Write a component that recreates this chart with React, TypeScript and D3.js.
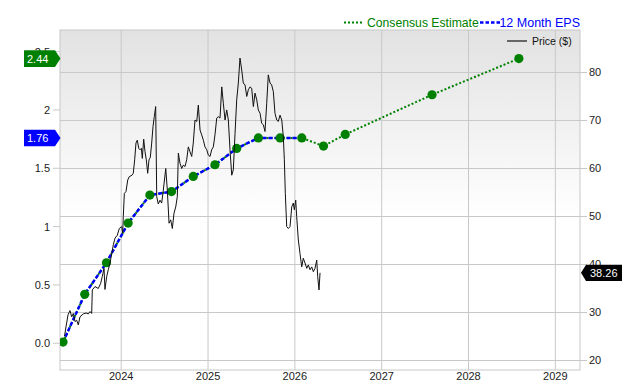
import React from "react";
import * as d3 from "d3";

// ---------- data ----------
const yearTicks = [2024, 2025, 2026, 2027, 2028, 2029];
const epsTicks = [0, 0.5, 1, 1.5, 2, 2.5];
const epsTickLabels = ["0.0", "0.5", "1", "1.5", "2", "2.5"];
const priceTicks = [20, 30, 40, 50, 60, 70, 80];

// quarterly 12-month EPS (actuals then consensus estimates), dates as decimal years
const epsDates = [
  2023.33, 2023.58, 2023.83, 2024.08, 2024.33, 2024.58, 2024.83, 2025.08,
  2025.33, 2025.58, 2025.83, 2026.08, 2026.33, 2026.58, 2027.58, 2028.58,
];
const epsValues = [
  0.01, 0.42, 0.69, 1.03, 1.27, 1.3, 1.43, 1.53, 1.67, 1.76, 1.76, 1.76, 1.69,
  1.79, 2.13, 2.44,
];
const lastActualIndex = 11;

// weekly-ish closing price, dates as decimal years
const priceDates = [
  2023.347, 2023.364, 2023.387, 2023.41, 2023.43, 2023.448, 2023.468, 2023.487,
  2023.506, 2023.525, 2023.563, 2023.595, 2023.621, 2023.641, 2023.66, 2023.667,
  2023.698, 2023.736, 2023.764, 2023.782, 2023.802, 2023.813, 2023.833, 2023.851,
  2023.871, 2023.891, 2023.909, 2023.929, 2023.955, 2023.978, 2024.006, 2024.017,
  2024.024, 2024.036, 2024.055, 2024.075, 2024.093, 2024.124, 2024.139, 2024.155,
  2024.17, 2024.185, 2024.202, 2024.217, 2024.232, 2024.243, 2024.259, 2024.274,
  2024.289, 2024.305, 2024.32, 2024.335, 2024.351, 2024.366, 2024.381, 2024.397,
  2024.409, 2024.427, 2024.447, 2024.466, 2024.485, 2024.513, 2024.531, 2024.551,
  2024.57, 2024.589, 2024.608, 2024.628, 2024.646, 2024.658, 2024.677, 2024.697,
  2024.715, 2024.735, 2024.754, 2024.773, 2024.792, 2024.812, 2024.83, 2024.85,
  2024.87, 2024.888, 2024.908, 2024.927, 2024.946, 2024.965, 2024.985, 2025.003,
  2025.023, 2025.042, 2025.061, 2025.08, 2025.1, 2025.118, 2025.138, 2025.158,
  2025.176, 2025.196, 2025.215, 2025.234, 2025.253, 2025.273, 2025.291, 2025.311,
  2025.33, 2025.349, 2025.368, 2025.388, 2025.406, 2025.426, 2025.446, 2025.464,
  2025.484, 2025.503, 2025.522, 2025.541, 2025.561, 2025.579, 2025.599, 2025.618,
  2025.637, 2025.656, 2025.676, 2025.694, 2025.714, 2025.733, 2025.752, 2025.771,
  2025.791, 2025.809, 2025.829, 2025.849, 2025.867, 2025.879, 2025.89, 2025.906,
  2025.925, 2025.944, 2025.964, 2025.982, 2025.994, 2026.01, 2026.021, 2026.04,
  2026.059, 2026.079, 2026.097, 2026.117, 2026.137, 2026.155, 2026.175, 2026.194,
  2026.213, 2026.232, 2026.252, 2026.263, 2026.278, 2026.29,
];
const priceValues = [
  25.1, 27.0, 29.5, 30.4, 29.1, 29.8, 28.1, 28.4,
  27.4, 29.1, 29.7, 29.9, 29.7, 30.2, 29.8, 34.7,
  35.4, 35.0, 36.1, 37.5, 39.2, 34.8, 37.5, 38.9,
  40.3, 42.3, 44.1, 45.5, 46.1, 47.5, 47.9, 46.5,
  50.0, 54.8, 55.2, 57.6, 58.3, 58.6, 59.0, 61.8,
  65.3, 65.9, 64.2, 63.9, 64.2, 62.1, 66.1, 63.5,
  61.8, 59.0, 61.8, 62.3, 65.3, 68.7, 70.8, 72.9,
  54.1, 52.6, 53.4, 52.8, 55.5, 60.0, 55.5, 48.6,
  49.3, 47.5, 50.7, 52.0, 54.1, 63.2, 61.1, 60.0,
  60.7, 60.4, 61.8, 64.5, 63.5, 62.5, 65.3, 70.1,
  69.8, 73.2, 68.0, 67.0, 65.9, 64.5, 63.9, 62.8,
  62.5, 63.9, 64.5, 67.0, 70.5, 70.8, 70.5, 77.0,
  73.6, 70.1, 72.2, 70.1, 63.9, 58.6, 59.7, 67.3,
  74.3, 77.8, 83.0, 80.5, 77.8, 77.4, 75.0, 76.4,
  77.0, 76.7, 72.9, 75.7, 74.3, 72.2, 71.5, 69.4,
  69.1, 67.7, 73.6, 79.5, 77.8, 77.4, 76.0, 71.5,
  70.1, 69.8, 71.1, 70.1, 66.6, 61.8, 54.8, 47.9,
  47.5, 47.9, 52.0, 52.8, 51.4, 53.4, 50.0, 45.1,
  42.3, 39.5, 41.3, 40.3, 39.2, 39.9, 38.9, 39.5,
  38.5, 39.2, 40.9, 37.5, 34.7, 38.26,
];

// ---------- layout ----------
const W = 640;
const H = 380;
const L = 60;
const R = 580;
const T = 30;
const B = 370;
const FONT = "'Liberation Sans', Arial, Helvetica, sans-serif";
const GRID = "#c8c8c8";
const GREEN = "#008000";
const BLUE = "#0000ff";

export default function App() {
  const x = d3.scaleLinear().domain([2023.295, 2029.284]).range([L, R]);
  const yEps = d3.scaleLinear().domain([-0.229, 2.685]).range([B, T]);
  const yPrice = d3.scaleLinear().domain([18.02, 88.85]).range([B, T]);

  const epsPts = epsDates.map((d, i) => ({ d, v: epsValues[i] }));
  const pricePts = priceDates.map((d, i) => ({ d, v: priceValues[i] }));

  const epsLine = d3
    .line<{ d: number; v: number }>()
    .x((p) => x(p.d))
    .y((p) => yEps(p.v));
  const priceLine = d3
    .line<{ d: number; v: number }>()
    .x((p) => x(p.d))
    .y((p) => yPrice(p.v));

  const lastEst = epsValues[epsValues.length - 1];
  const lastAct = epsValues[lastActualIndex];
  const lastPrice = priceValues[priceValues.length - 1];

  const leftTag = (v: number, color: string) => {
    const cy = yEps(v);
    return (
      <g key={color}>
        <path
          d={`M24,${cy - 8.3} H55 L60.5,${cy} L55,${cy + 8.3} H24 Z`}
          fill={color}
        />
        <text x={27} y={cy + 4} fill="#fff" fontSize={11} fontFamily={FONT}>
          {v.toFixed(2)}
        </text>
      </g>
    );
  };

  const pyLast = yPrice(lastPrice);

  return (
    <svg
      width={W}
      height={H}
      style={{ position: "absolute", left: 0, top: 0, background: "#fff" }}
    >
      <defs>
        <linearGradient id="bg" x1="0" y1="0" x2="0" y2="1">
          <stop offset="0%" stopColor="#e2e2e2" />
          <stop offset="55%" stopColor="#ffffff" />
          <stop offset="100%" stopColor="#ffffff" />
        </linearGradient>
        <clipPath id="plot">
          <rect x={L} y={T} width={R - L} height={B - T} />
        </clipPath>
      </defs>

      <rect x={L} y={T} width={R - L} height={B - T} fill="url(#bg)" />

      {/* grid */}
      {yearTicks.map((t) => (
        <line
          key={"vx" + t}
          x1={x(t)}
          x2={x(t)}
          y1={T}
          y2={B}
          stroke={GRID}
          strokeWidth={1}
        />
      ))}
      {priceTicks.map((t) => (
        <line
          key={"hy" + t}
          x1={L}
          x2={R}
          y1={yPrice(t)}
          y2={yPrice(t)}
          stroke={GRID}
          strokeWidth={1}
        />
      ))}
      <rect
        x={L}
        y={T}
        width={R - L}
        height={B - T}
        fill="none"
        stroke={GRID}
        strokeWidth={1}
      />

      {/* left axis */}
      {epsTicks.map((t, i) => (
        <g key={"le" + t}>
          <line
            x1={53}
            x2={L}
            y1={yEps(t)}
            y2={yEps(t)}
            stroke={GRID}
            strokeWidth={1}
          />
          <text
            x={50}
            y={yEps(t) + 4}
            textAnchor="end"
            fontSize={11}
            fontFamily={FONT}
            fill="#222"
          >
            {epsTickLabels[i]}
          </text>
        </g>
      ))}

      {/* right axis */}
      {priceTicks.map((t) => (
        <g key={"rp" + t}>
          <line
            x1={R}
            x2={587}
            y1={yPrice(t)}
            y2={yPrice(t)}
            stroke={GRID}
            strokeWidth={1}
          />
          <text
            x={589}
            y={yPrice(t) + 4}
            fontSize={11}
            fontFamily={FONT}
            fill="#222"
          >
            {t}
          </text>
        </g>
      ))}

      {/* bottom axis */}
      {yearTicks.map((t) => (
        <text
          key={"bx" + t}
          x={x(t)}
          y={380}
          textAnchor="middle"
          fontSize={11}
          fontFamily={FONT}
          fill="#222"
        >
          {t}
        </text>
      ))}

      <g clipPath="url(#plot)">
        {/* consensus (dotted green) through all points */}
        <path
          d={epsLine(epsPts) || ""}
          fill="none"
          stroke={GREEN}
          strokeWidth={2}
          strokeDasharray="2,2"
        />
        {/* 12 month EPS actuals (dashed blue) */}
        <path
          d={epsLine(epsPts.slice(0, lastActualIndex + 1)) || ""}
          fill="none"
          stroke={BLUE}
          strokeWidth={2.5}
          strokeDasharray="4,2"
        />
        {epsPts.map((p, i) => (
          <circle
            key={"dot" + i}
            cx={x(p.d)}
            cy={yEps(p.v)}
            r={4.6}
            fill={GREEN}
          />
        ))}
        <path
          d={priceLine(pricePts) || ""}
          fill="none"
          stroke="#111"
          strokeWidth={1}
          strokeLinejoin="round"
        />
      </g>

      {/* value tags */}
      {leftTag(lastEst, GREEN)}
      {leftTag(lastAct, BLUE)}
      <path
        d={`M581,${pyLast} L586,${pyLast - 8.2} H622 V${pyLast + 8.2} H586 Z`}
        fill="#000"
      />
      <text x={590} y={pyLast + 4} fill="#fff" fontSize={11} fontFamily={FONT}>
        {lastPrice.toFixed(2)}
      </text>

      {/* top legend */}
      <line
        x1={344}
        x2={363}
        y1={22.5}
        y2={22.5}
        stroke={GREEN}
        strokeWidth={2}
        strokeDasharray="2,2"
      />
      <text x={367} y={27} fontSize={12.2} fontFamily={FONT} fill={GREEN}>
        Consensus Estimate
      </text>
      <line
        x1={480}
        x2={502}
        y1={22.5}
        y2={22.5}
        stroke={BLUE}
        strokeWidth={2.5}
        strokeDasharray="3.5,2"
      />
      <text
        x={580}
        y={27}
        textAnchor="end"
        fontSize={12.5}
        fontFamily={FONT}
        fill={BLUE}
      >
        12 Month EPS
      </text>

      {/* price legend */}
      <line x1={507} x2={527} y1={41} y2={41} stroke="#666" strokeWidth={2} />
      <text x={532} y={45} fontSize={10.5} fontFamily={FONT} fill="#111">
        Price ($)
      </text>
    </svg>
  );
}
